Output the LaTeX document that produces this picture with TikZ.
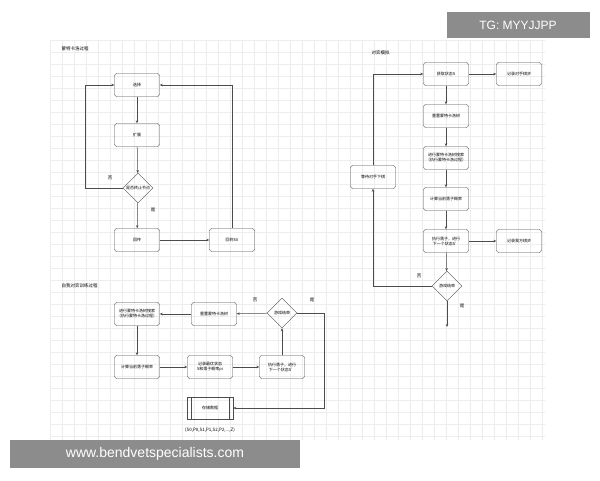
\documentclass[tikz,border=0pt]{standalone}
\usepackage{fontspec}
\setmainfont{Noto Sans CJK SC}
\newfontfamily\wmfont{Liberation Sans}
\XeTeXlinebreaklocale "zh"
\XeTeXlinebreakskip = 0pt
\usetikzlibrary{shapes.geometric,arrows.meta}
\begin{document}
\begin{tikzpicture}[x=1pt,y=-1pt,
  box/.style={draw=black!70,rounded corners=2.5pt,minimum width=45pt,minimum height=23pt,align=center,font=\fontsize{4}{5}\selectfont,text width=40pt,inner sep=0.5pt},
  dia/.style={draw=black!70,diamond,minimum width=30pt,minimum height=30pt,inner sep=0pt,font=\fontsize{4}{4.5}\selectfont},
  lab/.style={font=\fontsize{4.5}{5}\selectfont},
  ar/.style={draw=black!70,-{Stealth[length=3pt,width=2.5pt]},line width=0.5pt}]
\useasboundingbox (0,0) rectangle (600,480);
\fill[white] (0,0) rectangle (600,480);
\foreach \i in {0,...,41} {\draw[black!7,line width=0.3pt] (50+12*\i,40) -- (50+12*\i,440);}
\foreach \j in {0,...,33} {\draw[black!7,line width=0.3pt] (50,40+12*\j) -- (545,40+12*\j);}
% top-left
\node[lab,anchor=west] (t1) at (58,49) {蒙特卡洛过程};
\node[box] (a1) at (137,85) {选择};
\node[box] (a2) at (137,135) {扩展};
\node[dia] (a3) at (138,188) {是否终止节点};
\node[box] (a4) at (137,240) {回传};
\node[box] (a5) at (232,240) {回到S0};
\coordinate (c1) at (85,85);
\draw[ar] (a1) -- (a2);
\draw[ar] (a2) -- (a3);
\draw[ar] (a3) -- (a4);
\draw[ar] (a4) -- (a5);
\draw[ar] (a3.west) -- (85,188) -- (c1) -- (a1.west);
\draw[ar] (a5.north) -- (232,85) -- (a1.east);
\node[lab] (n1) at (110,178) {否};
\node[lab] (y1) at (153,210) {是};
% top-right
\node[lab,anchor=west] (t2) at (368,53) {对弈模拟};
\node[box] (b1) at (446,74) {获取状态S};
\node[box] (b2) at (519,74) {记录对手棋步};
\node[box] (b3) at (446,116) {重置蒙特卡洛树};
\node[box] (b4) at (446,158) {进行蒙特卡洛树搜索（执行蒙特卡洛过程）};
\node[box] (b5) at (446,199) {计算当前落子概率};
\node[box] (b6) at (446,241) {执行落子，进行下一个状态S'};
\node[box] (b7) at (519,241) {记录我方棋步};
\node[dia] (b8) at (447,286) {游戏结束};
\node[box] (b9) at (373,177) {等待对手下棋};
\coordinate (e1) at (447,327);
\draw[ar] (b1) -- (b2);
\draw[ar] (b1) -- (b3);
\draw[ar] (b3) -- (b4);
\draw[ar] (b4) -- (b5);
\draw[ar] (b5) -- (b6);
\draw[ar] (b6) -- (b7);
\draw[ar] (b6) -- (b8);
\draw[ar] (b8) -- (e1);
\draw[ar] (b8.west) -- (373,286) -- (b9.south);
\draw[ar] (b9.north) -- (373,74) -- (b1.west);
\node[lab] (n2) at (419,276) {否};
\node[lab] (y2) at (462,306) {是};
% bottom
\node[lab,anchor=west] (t3) at (58,286) {自我对弈训练过程};
\node[box] (d1) at (137,314) {进行蒙特卡洛树搜索（执行蒙特卡洛过程）};
\node[box] (d2) at (214,314) {重置蒙特卡洛树};
\node[dia] (d3) at (282,313) {游戏结束};
\node[box] (d4) at (137,367) {计算当前落子概率};
\node[box] (d5) at (210,367) {记录最优状态S和落子概率pi};
\node[box] (d6) at (282,367) {执行落子，进行下一个状态S'};
\node[draw=black!70,minimum width=46pt,minimum height=22pt,font=\fontsize{4}{4.5}\selectfont] (d7) at (210,408) {存储数据};
\draw[black!70] ([xshift=4pt]d7.north west) -- ([xshift=4pt]d7.south west);
\draw[black!70] ([xshift=-4pt]d7.north east) -- ([xshift=-4pt]d7.south east);
\node[lab] (d8) at (210,430) {(S0,P0,S1,P1,S2,P2,...,Z)};
\draw[ar] (d3) -- (d2);
\draw[ar] (d2) -- (d1);
\draw[ar] (d1) -- (d4);
\draw[ar] (d4) -- (d5);
\draw[ar] (d5) -- (d6);
\draw[ar] (d6) -- (d3);
\draw[ar] (d3.east) -- (324,313) -- (324,408) -- (d7.east);
\node[lab] (n3) at (255,300) {否};
\node[lab] (y3) at (312,300) {是};
% watermarks
\node[fill=black!45,text=white,minimum width=143pt,minimum height=26pt,font=\fontsize{12}{12}\wmfont] (w1) at (518,25) {TG: MYYJJPP};
\node[fill=black!45,text=white,minimum width=290pt,minimum height=28pt,font=\fontsize{14}{14}\wmfont] (w2) at (155,454) {www.bendvetspecialists.com};
\end{tikzpicture}
\end{document}
